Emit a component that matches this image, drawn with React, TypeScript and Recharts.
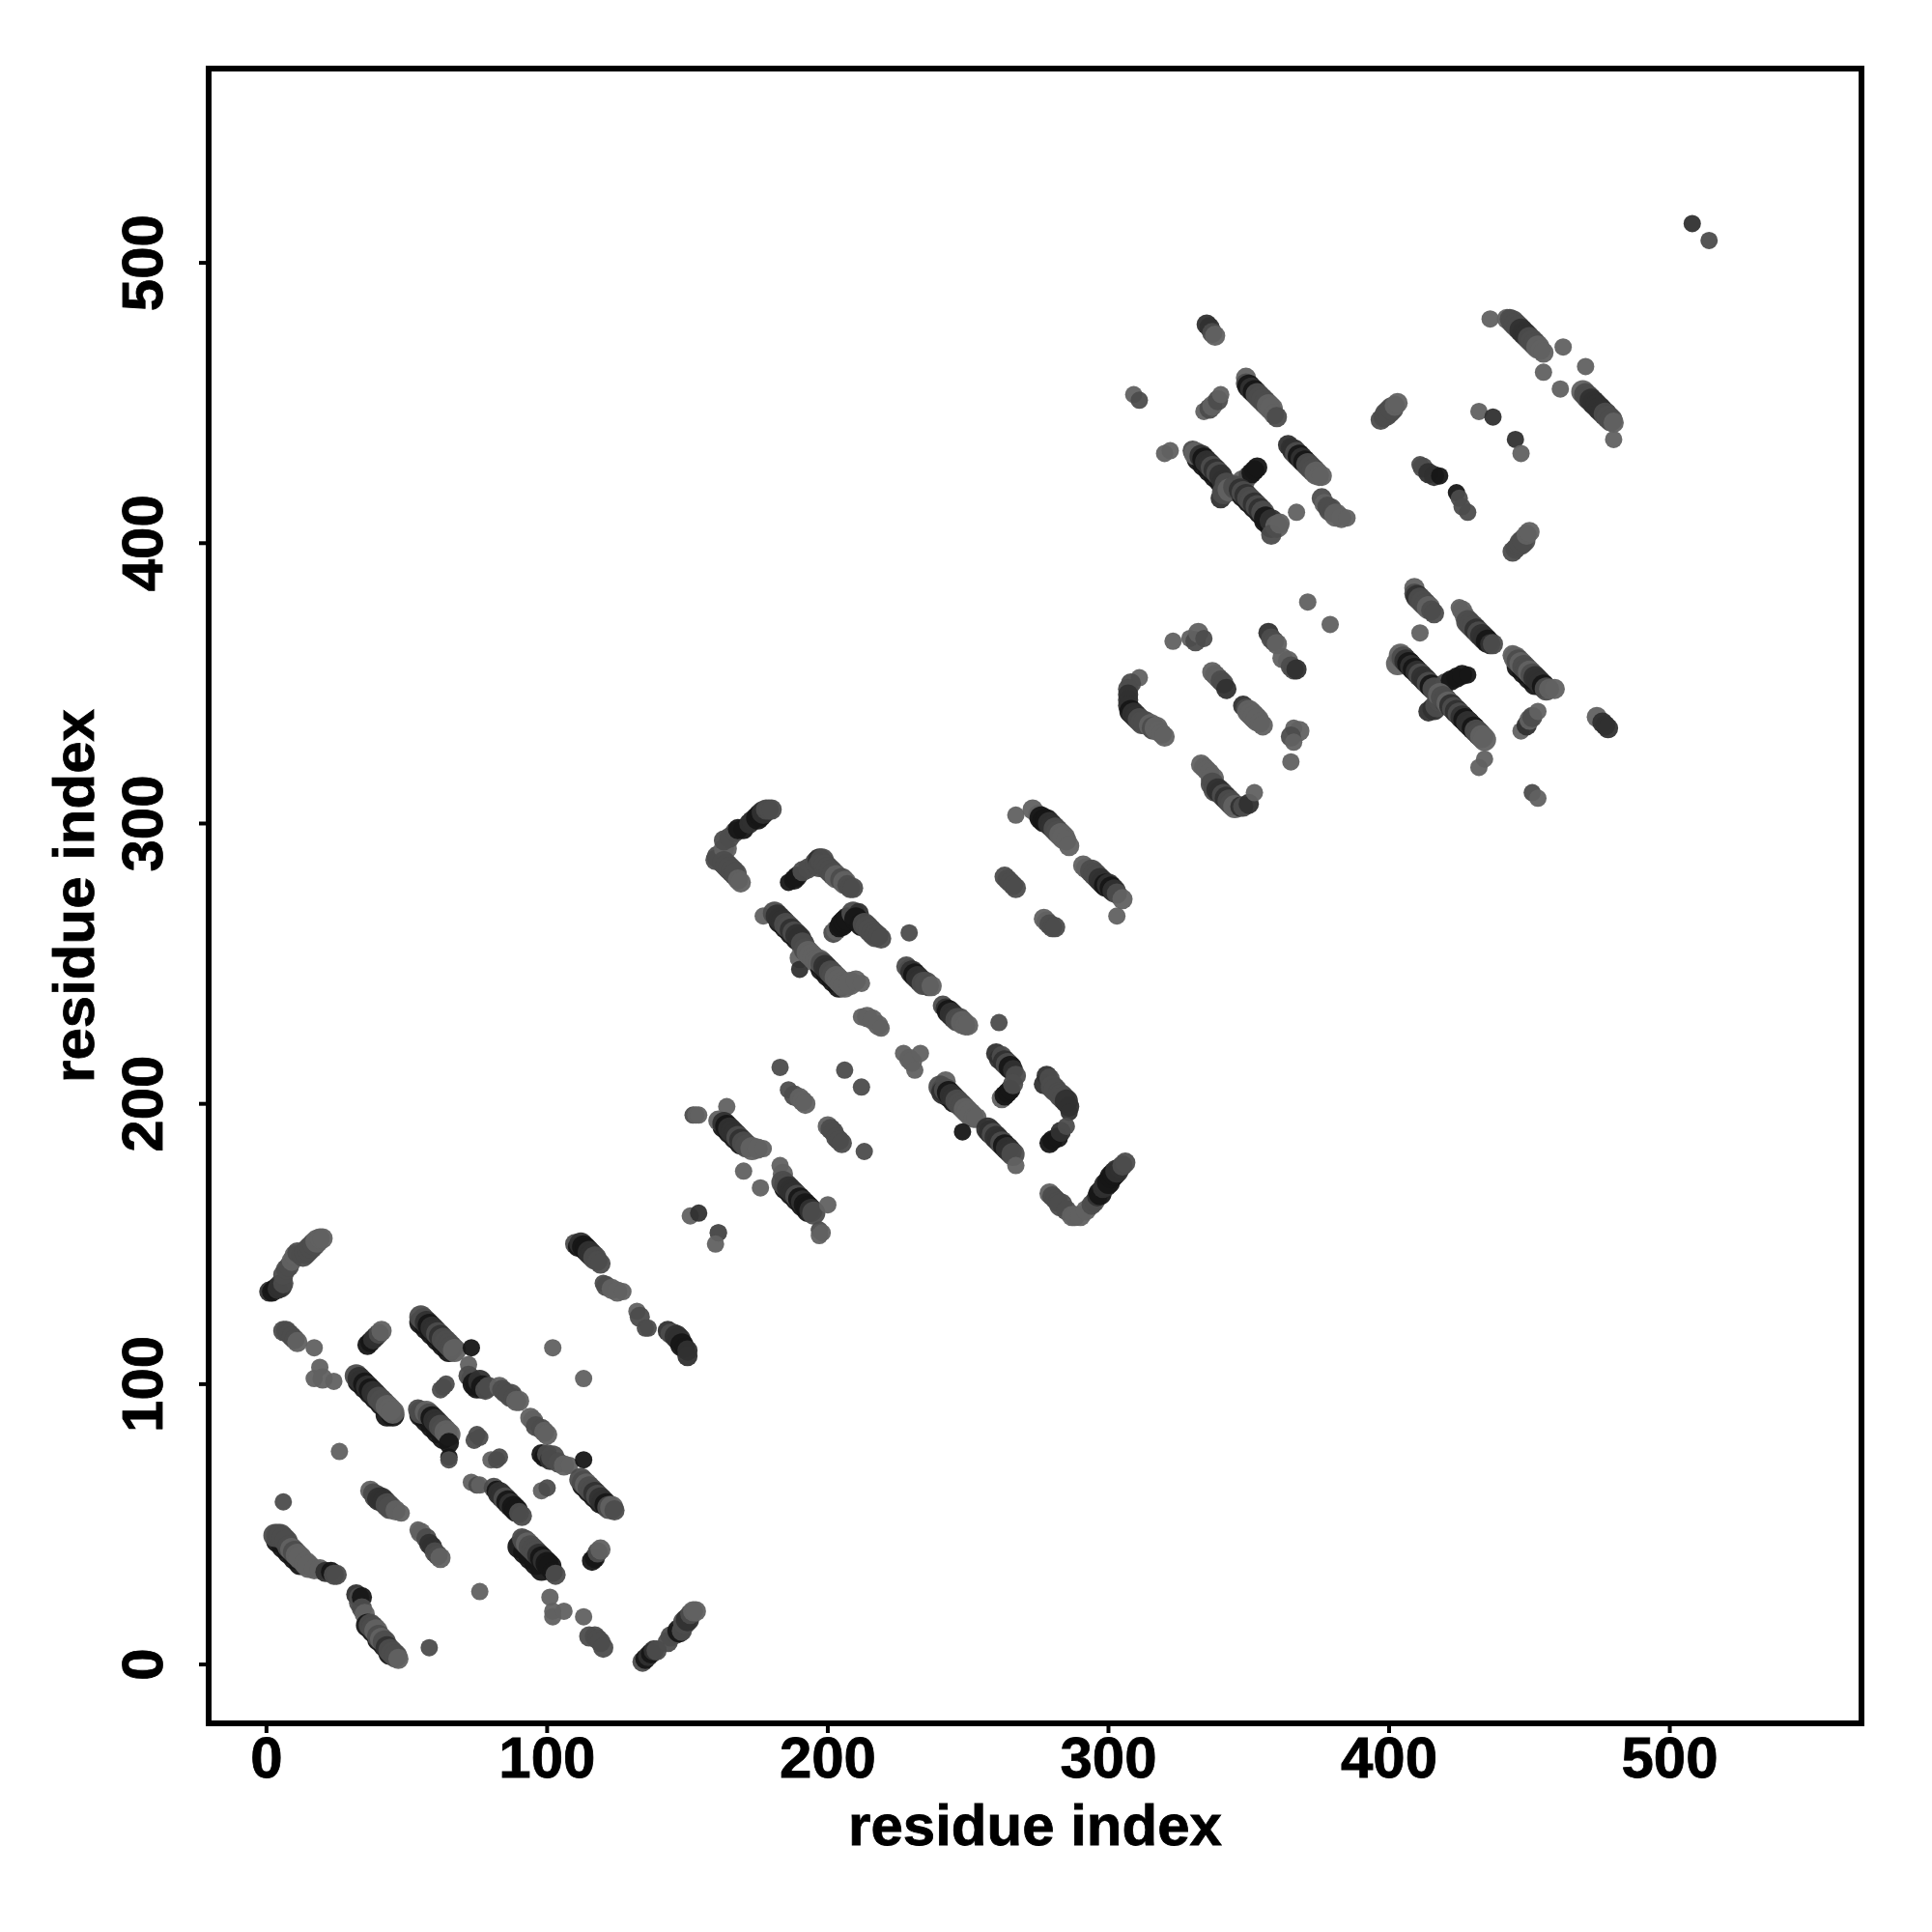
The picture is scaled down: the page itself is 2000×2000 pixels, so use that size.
import { ScatterChart, Scatter, XAxis, YAxis, ReferenceArea } from "recharts";

// each row: residue i, residue j, contact strength (0 weak .. 3 strong)
type Row = [number, number, number];

const xTicks = [0, 100, 200, 300, 400, 500];
const yTicks = [0, 100, 200, 300, 400, 500];

const lowerLeft: Row[] = [
  [1,133,2],[2,133,3],[3,134,3],[4,134,2],[5,135,2],[6,136,1],[6,139,1],[7,141,1],[8,142,1],[9,144,0],[10,146,0],[11,147,1],[13,146,1],[14,147,1],[15,148,1],[16,149,1],[17,150,1],[18,151,0],[19,152,0],[20,152,0],
  [6,119,1],[7,119,1],[8,118,1],[9,117,1],[10,116,1],[11,115,0],[17,113,0],[19,106,0],[17,102,0],[20,102,0],[24,101,0],
  [36,114,3],[37,115,3],[38,116,2],[39,117,2],[40,118,1],[41,119,0],
  [33,101,3],[35,99,3],[37,97,3],[39,95,3],[41,93,3],[43,89,3],[45,89,3],
  [32,103,1],[33,102,2],[34,101,2],[35,100,3],[36,99,2],[37,98,3],[38,97,2],[39,96,2],[40,95,1],[41,94,1],[42,93,1],[43,92,0],[44,91,0],[45,90,0],
  [55,122,3],[57,120,3],[59,118,3],[61,116,3],[63,114,3],[65,112,3],
  [55,124,1],[56,123,1],[57,122,2],[58,121,3],[59,120,2],[60,119,2],[61,118,1],[62,117,2],[63,116,1],[64,115,1],[65,114,1],[66,113,1],[67,112,0],
  [73,113,3],[72,107,0],[72,103,1],[73,102,1],[74,100,3],[75,99,3],[76,101,2],[77,99,3],[78,98,1],[79,99,1],
  [62,98,1],[63,99,1],[64,100,1],
  [83,99,0],[84,98,1],[85,97,1],[87,96,1],[88,95,1],[89,94,0],[90,94,0],
  [55,89,3],[57,87,3],[59,85,3],[61,83,3],[63,81,3],
  [54,91,1],[55,90,1],[57,90,0],[58,89,1],[59,88,3],[60,87,2],[61,86,2],[62,85,1],[63,84,1],[64,83,0],[65,82,0],[65,79,3],[65,74,3],[65,73,1],
  [74,80,1],[75,82,1],[76,81,1],[80,73,0],[82,73,1],[83,74,1],
  [94,88,0],[95,87,0],[96,85,1],[98,84,1],[99,83,0],[100,82,0],
  [98,75,3],[99,74,3],[100,75,1],[101,73,2],[102,74,1],[104,72,1],[106,71,0],[108,71,0],[113,73,3],
  [102,113,0],[113,102,0],
  [110,150,1],[111,149,3],[112,150,2],[113,149,3],[114,148,3],[115,147,2],[116,146,2],[117,145,1],[118,144,1],[119,143,1],
  [120,136,1],[121,135,1],[123,134,0],[125,133,0],[127,133,0],
  [132,126,0],[133,124,1],[135,120,1],[136,120,1],
  [143,119,2],[144,118,1],[145,118,1],[146,117,2],[147,116,2],[148,114,3],[149,113,3],[150,112,2],[150,110,2],
  [37,62,0],[38,61,1],[39,60,1],[40,59,2],[41,59,2],[42,58,2],[43,57,1],[44,56,1],[46,55,0],[48,54,0],
  [54,48,0],[55,47,0],[57,45,1],[58,43,2],[59,42,2],[60,40,1],[61,39,1],[62,38,0],
  [4,44,3],[6,42,3],[8,40,3],[10,38,3],[12,36,3],
  [3,46,1],[4,46,1],[5,46,1],[6,45,1],[7,44,1],[8,42,1],[9,41,0],[10,40,1],[11,39,0],[12,38,0],[14,36,0],[15,35,0],[17,34,0],[19,34,0],[21,33,2],[23,33,3],[24,32,1],[25,32,1],
  [6,58,1],[26,76,0],
  [32,25,2],[33,24,1],[33,22,1],[34,24,3],[34,20,1],[35,18,0],[36,14,3],[38,12,3],[40,9,3],[42,7,3],[44,4,3],
  [37,14,1],[38,13,1],[39,12,0],[40,10,1],[41,9,0],[42,8,1],[43,6,2],[44,5,1],[45,4,1],[46,3,1],[47,2,0],
  [58,6,1],
  [73,65,0],[75,64,1],[76,64,0],
  [81,63,1],[82,62,3],[83,61,2],[84,60,2],[85,59,1],[86,58,3],[87,57,2],[88,56,3],[89,55,3],[90,54,1],[91,53,1],
  [98,62,0],[100,63,1],
  [90,42,3],[92,40,3],[94,38,3],[96,36,3],[98,34,3],
  [91,45,1],[92,44,1],[93,43,0],[94,42,1],[95,41,1],[96,40,1],[97,39,2],[98,38,3],[99,37,2],[100,36,3],[101,35,3],[102,33,3],[103,32,1],
  [76,26,0],
  [113,64,3],[115,62,3],[117,60,3],[119,58,3],
  [112,66,1],[113,65,1],[114,64,0],[115,63,1],[116,62,1],[117,61,2],[118,60,1],[119,59,2],[120,58,2],[121,57,3],[122,56,1],[123,56,0],[124,55,1],
  [116,37,3],[117,38,3],[118,40,1],[119,41,0],
  [101,24,0],[102,19,0],[102,17,0],[106,19,0],[113,17,0],
  [115,10,1],[117,10,1],[118,9,1],[119,8,1],[120,6,1],
  [134,1,1],[135,2,3],[136,3,2],[137,4,3],[138,5,2],[139,5,1],[143,8,1],[144,10,1],[146,11,1],[147,12,3],[148,12,1],[149,15,1],[150,16,2],[151,18,1],[152,19,0],[153,19,0],
];

const middleBand: Row[] = [
  [151,160,0],[154,161,2],[161,154,0],[161,154,1],[160,150,0],
  [152,196,1],[153,196,0],[154,196,0],
  [163,192,3],[165,190,3],[167,188,3],[169,186,3],
  [164,199,0],[161,194,0],[163,193,2],[164,192,3],[165,191,2],[166,190,2],[167,189,2],[168,188,1],[169,187,2],[170,186,1],[171,185,1],[173,184,0],[175,184,0],[177,184,0],
  [170,176,0],[176,170,0],
  [183,178,0],[184,175,0],
  [185,170,3],[187,168,3],[189,166,3],[191,164,3],[193,162,3],
  [184,172,1],[185,171,1],[186,170,2],[187,169,2],[188,168,2],[189,167,1],[190,166,3],[191,165,2],[192,164,3],[193,163,3],[194,162,2],[195,161,1],
  [200,164,0],[197,155,1],[197,153,0],[198,154,0],
  [183,213,1],[186,205,1],[188,203,1],[190,202,0],[191,201,0],[192,200,0],
  [200,192,0],[201,191,1],[202,190,1],[203,188,1],[204,187,1],[205,186,1],[213,183,1],
  [206,212,1],[212,206,1],
  [227,218,0],[229,216,0],[230,215,0],[231,212,0],
  [241,205,3],[243,203,3],[245,201,3],
  [242,208,0],[240,206,1],[241,204,2],[242,205,1],[243,204,3],[244,203,2],[245,202,2],[246,201,1],[247,200,1],[248,199,1],[249,198,0],[250,197,0],[251,196,0],[252,195,0],[253,195,0],
  [248,190,3],[258,190,3],[260,188,3],[262,186,3],[264,184,3],
  [257,191,2],[258,190,2],[259,189,1],[260,188,2],[261,187,2],[262,186,1],[263,185,3],[264,184,2],[265,183,2],[266,182,1],[267,178,0],
  [261,229,1],
  [260,218,2],[261,216,2],[262,217,1],[263,215,2],[264,214,1],[265,213,3],[266,212,2],[267,210,1],
  [262,202,0],[263,203,3],[264,204,3],[265,205,3],[266,207,1],
  [278,210,2],[277,207,2],[279,209,1],[280,206,1],[281,205,1],[282,204,1],[283,203,1],[284,202,1],[285,201,2],[286,199,2],[286,197,2],
  [279,186,3],[280,187,3],[282,188,3],[283,190,2],[285,192,1],
  [279,168,0],[280,167,1],[281,166,1],[282,165,1],[283,164,1],[285,162,1],[287,160,0],[288,160,0],[290,160,0],[292,162,0],[294,164,1],[295,165,1],[296,167,2],[297,168,3],[298,170,2],[299,171,2],[300,172,3],[301,174,3],[302,175,3],[303,176,2],[304,177,2],[305,178,1],[306,179,1],
  [161,288,1],[160,287,1],[163,291,0],[164,291,0],[163,294,1],[165,295,1],[167,297,1],[168,298,3],[170,298,3],[172,300,2],[173,301,2],[175,302,3],[176,303,3],[177,304,2],[178,305,1],[179,305,1],[180,305,1],
  [163,286,1],[164,285,1],[165,284,1],[166,283,1],[167,282,1],[168,280,0],[169,279,0],
  [186,279,3],[188,280,3],[189,281,3],[191,283,1],[193,284,1],[196,286,1],[197,287,2],[198,287,1],
  [197,285,1],[199,285,1],[200,284,1],[201,283,1],[202,282,1],[203,281,0],[205,280,1],[206,279,0],[207,278,1],[208,277,1],[209,277,1],
  [177,267,0],
  [183,265,3],[185,263,3],[187,261,3],[189,259,3],[191,257,3],
  [181,268,1],[182,267,2],[183,266,2],[184,265,2],[185,264,1],[186,263,1],[187,262,2],[188,261,1],[189,260,2],[190,259,2],[191,257,1],[190,252,0],[190,248,2],[192,255,1],[193,254,0],[194,253,0],[195,252,0],[196,251,0],[197,250,0],
  [198,248,3],[200,246,3],[202,244,3],[204,242,3],
  [197,251,0],[198,250,1],[199,249,2],[200,248,2],[201,247,1],[202,246,1],[203,245,0],[204,244,0],[205,243,0],[206,242,0],[208,243,0],[210,244,0],[212,243,0],
  [202,261,1],[203,262,0],[204,263,3],[205,264,3],[206,265,3],[207,266,3],[209,268,1],[211,268,2],
  [210,266,3],[212,264,3],[213,264,1],[214,263,1],[215,262,1],[216,261,1],[217,260,1],[218,260,1],[219,259,1],
  [229,261,1],
  [228,249,1],[229,248,1],[230,247,2],[231,246,3],[232,245,2],[233,244,2],[234,243,1],[235,243,1],[236,242,1],[237,242,0],
  [241,235,1],[242,234,2],[243,233,3],[244,232,2],[245,231,2],[246,230,1],[247,230,1],[248,229,0],[249,228,0],[250,228,0],
  [212,231,0],[214,231,0],[216,230,0],[218,228,0],[219,227,0],
  [233,218,0],
  [267,303,0],
  [273,305,0],[275,303,0],[276,302,3],[277,301,3],[278,301,3],[279,300,2],[280,299,2],[281,298,1],[282,297,1],[283,296,0],[284,295,0],[285,294,0],[286,292,0],
  [291,285,0],[292,284,0],[294,283,1],[295,282,1],[296,281,1],[297,280,2],[298,279,2],[299,278,3],[300,278,2],[301,277,3],[302,276,2],[303,275,1],[305,273,0],[303,267,0],
  [263,281,1],[264,280,1],[265,279,1],[266,278,1],[267,277,1],
  [277,266,0],[278,265,0],[279,264,1],[280,263,1],[281,263,1],
];

const upperBand: Row[] = [
  [309,453,0],[311,451,1],
  [335,478,2],[336,477,2],[337,475,1],[338,474,0],
  [334,447,0],[336,448,1],[337,449,0],[339,451,1],[340,453,0],
  [349,459,0],[349,457,1],[350,456,3],[351,455,2],[352,454,3],[353,453,1],[354,452,1],[355,451,1],[356,450,1],[357,449,0],[358,448,0],[359,446,0],[360,445,1],
  [320,432,0],[322,433,0],
  [332,430,3],[334,428,3],[336,426,3],[338,424,3],[340,422,3],[342,420,3],
  [330,433,1],[331,432,0],[333,431,2],[334,430,3],[335,429,2],[336,428,2],[337,427,1],[338,426,2],[339,425,1],[340,424,2],[341,422,2],[342,421,1],[340,416,2],[341,418,1],[343,419,0],
  [348,422,0],[350,424,1],[351,425,3],[352,426,3],[353,427,3],
  [348,417,3],[350,415,3],[352,413,3],[354,411,3],[356,408,3],[358,406,3],
  [345,420,1],[347,419,2],[348,418,1],[349,417,2],[350,416,1],[351,415,1],[352,414,2],[353,413,1],[354,412,2],[355,411,1],[356,409,3],[358,408,2],[360,406,0],[358,403,1],[361,407,0],
  [364,435,2],[365,434,2],[366,433,2],[367,432,1],[368,431,3],[369,430,2],[370,429,3],[371,428,1],[372,427,1],[373,426,1],[374,425,0],[375,424,0],[376,424,0],
  [367,411,0],
  [376,416,1],[377,414,0],[378,413,1],[379,412,1],[380,411,1],[381,410,0],[383,409,0],[385,409,0],
  [397,444,1],[398,445,1],[399,446,1],[400,447,1],[401,448,1],[402,449,0],[403,450,0],
  [411,428,1],[412,427,1],[414,425,2],[416,424,2],[418,424,3],[424,418,3],[425,416,1],[426,413,1],[428,411,1],
  [432,447,0],[437,445,2],
  [445,437,2],[447,432,0],
  [444,397,1],[445,398,1],[446,399,1],[447,400,1],[448,401,1],[449,403,0],[450,404,0],
  [436,480,0],[442,480,0],[443,480,1],[444,479,1],[445,478,1],[446,477,1],[447,476,2],[448,475,2],[449,474,2],[450,473,1],[451,472,1],[452,471,1],[453,470,0],[454,469,0],[455,468,0],
  [462,470,0],[470,463,0],[455,461,0],[461,455,0],
  [471,452,3],[473,450,3],[475,448,3],[477,446,3],
  [469,454,0],[470,453,1],[471,452,1],[472,451,2],[473,450,2],[474,449,2],[475,448,2],[476,447,2],[477,446,1],[478,445,1],[479,444,1],[480,443,0],[480,437,0],
  [508,514,2],[514,508,1],
];

const centreBand: Row[] = [
  [323,365,0],[329,366,0],[331,365,1],[332,368,0],[334,366,1],
  [357,368,2],[358,366,1],[359,365,1],[360,364,0],
  [362,359,0],[364,358,0],[365,356,1],[366,355,1],[367,355,2],
  [371,379,0],[379,371,0],
  [311,352,0],[308,350,1],[307,348,1],[307,346,2],[307,344,2],[307,342,2],[308,340,3],[309,339,2],[310,338,2],[311,337,1],[312,336,1],[313,336,1],[315,335,0],[316,334,1],[317,334,0],[318,333,0],[319,332,0],[320,331,0],
  [337,354,0],[338,353,0],[339,352,0],[340,351,1],[341,350,1],[342,348,2],
  [348,342,2],[349,341,1],[350,340,0],[351,339,0],[352,338,0],[353,337,0],[354,336,0],[355,335,0],
  [366,334,0],[368,333,0],[365,331,1],[366,329,0],[365,322,0],
  [333,321,0],[334,320,0],[335,319,0],[336,318,0],[337,316,0],[337,314,1],[338,312,1],[339,312,2],[340,311,2],[341,310,1],[342,309,2],[343,308,1],[344,307,1],[345,306,0],[347,306,2],[348,306,1],[350,307,2],[352,311,0],
  [405,359,3],[407,357,3],[409,355,3],[411,353,3],[413,351,3],[415,349,3],
  [403,357,0],[404,360,0],[405,359,1],[406,358,2],[407,357,3],[408,356,2],[409,355,3],[410,354,2],[411,353,1],[412,352,2],[413,351,2],[414,350,1],[415,349,3],[416,348,1],
  [420,350,1],[422,351,3],[424,352,3],[426,353,3],[428,353,3],
  [414,340,2],[416,341,2],[417,342,1],[418,344,1],
  [420,344,3],[422,342,3],[424,340,3],[426,338,3],[428,336,3],[430,334,3],[432,332,3],
  [418,346,0],[419,345,1],[420,344,1],[421,343,0],[422,342,2],[423,341,1],[424,340,2],[425,339,1],[426,338,2],[427,337,3],[428,336,2],[429,335,2],[430,334,3],[431,333,1],[432,332,1],[433,331,0],[434,330,0],
  [409,384,0],[409,382,1],[410,381,2],[411,380,1],[412,379,1],[413,378,1],[414,377,0],[415,376,1],[416,375,1],
  [411,368,0],
  [425,377,0],[426,376,0],[427,374,0],[428,372,1],[429,371,1],[430,370,1],[431,369,2],[432,368,1],[433,367,2],[434,366,2],[435,365,3],[436,364,2],[437,364,1],
  [446,356,3],[448,354,3],[450,352,3],[452,350,3],
  [444,360,0],[445,359,0],[446,358,1],[447,357,0],[448,356,1],[449,355,1],[450,354,0],[451,353,1],[452,352,2],[453,351,2],[454,350,2],[455,349,3],[456,348,1],[457,348,0],[459,348,0],
  [447,333,0],[449,335,2],[450,337,0],[451,338,1],[453,340,0],
  [474,338,0],[476,336,2],[477,335,2],[478,334,2],
  [432,320,0],[434,323,0],
  [451,311,1],[453,309,0],
];

const rows = [...lowerLeft, ...middleBand, ...centreBand, ...upperBand];

// dots in a crowded stripe are drawn fatter than isolated ones
const contacts = rows.map(([i, j, s]) => ({
  i,
  j,
  s,
  n: rows.filter(([a, b]) => Math.abs(a - i) <= 4 && Math.abs(b - j) <= 4).length,
}));

const greys = ["#616161", "#4c4c4c", "#303030", "#161616"];

const Dot = (props: any) => {
  const { s, n } = props.payload;
  const r = n < 4 ? 9 : n < 7 ? 10.5 : 12;
  return <circle cx={props.cx} cy={props.cy} r={r} fill={greys[s]} fillOpacity={0.95} />;
};

const font = "'Liberation Sans', Arial, sans-serif";

const XTick = ({ x, y, payload }: any) => (
  <text x={x} y={y + 44} textAnchor="middle" fontFamily={font} fontWeight="bold" fontSize={60} fill="#000" stroke="#000" strokeWidth={0.8}>
    {payload.value}
  </text>
);

const YTick = ({ x, y, payload }: any) => (
  <text
    transform={`translate(${x - 36},${y}) rotate(-90)`}
    textAnchor="middle"
    fontFamily={font}
    fontWeight="bold"
    fontSize={60}
    fill="#000"
    stroke="#000"
    strokeWidth={0.8}
  >
    {payload.value}
  </text>
);

export default function App() {
  return (
    <div style={{ position: "absolute", left: 0, top: 0, width: 2000, height: 2000, background: "#fff" }}>
      <ScatterChart
        width={2000}
        height={2000}
        margin={{ top: 71, right: 73, bottom: 16, left: 16 }}
      >
        <XAxis
          type="number"
          dataKey="i"
          domain={[-20.6, 568.3]}
          ticks={xTicks}
          height={200}
          axisLine={false}
          tickSize={10}
          tickLine={{ stroke: "#000", strokeWidth: 4 }}
          tick={<XTick />}
          interval={0}
          label={{
            value: "residue index",
            position: "insideBottom",
            offset: 74,
            fontFamily: font,
            fontWeight: "bold",
            fontSize: 60,
            fill: "#000",
            stroke: "#000",
            strokeWidth: 0.8,
          }}
        />
        <YAxis
          type="number"
          dataKey="j"
          domain={[-21, 569.3]}
          ticks={yTicks}
          width={200}
          axisLine={false}
          tickSize={10}
          tickLine={{ stroke: "#000", strokeWidth: 4 }}
          tick={<YTick />}
          interval={0}
          label={{
            value: "residue index",
            angle: -90,
            position: "insideLeft",
            offset: 60,
            style: { textAnchor: "middle" },
            fontFamily: font,
            fontWeight: "bold",
            fontSize: 60,
            fill: "#000",
            stroke: "#000",
            strokeWidth: 0.8,
          }}
        />
        <Scatter data={contacts} isAnimationActive={false} shape={<Dot />} />
        <ReferenceArea
          x1={-20.6}
          x2={568.3}
          y1={-21}
          y2={569.3}
          fill="none"
          stroke="#000"
          strokeWidth={6}
          strokeOpacity={1}
          ifOverflow="visible"
        />
      </ScatterChart>
    </div>
  );
}
